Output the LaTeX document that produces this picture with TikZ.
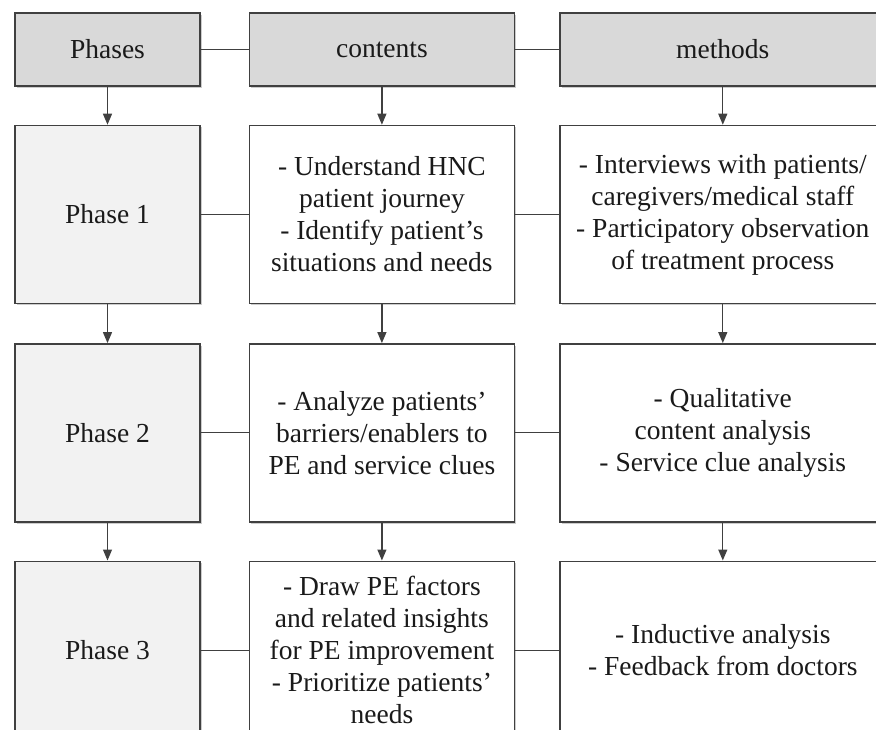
\documentclass[tikz,border=0pt]{standalone}
\usepackage{fontspec}
\setmainfont{Liberation Serif}
\usetikzlibrary{arrows.meta,positioning,shadows}
\definecolor{StageGray}{HTML}{D9D9D9}
\definecolor{StageSoft}{HTML}{F2F2F2}
\definecolor{StageLine}{HTML}{404040}
\definecolor{StageText}{HTML}{1A1A1A}

\begin{document}
\begin{tikzpicture}[
    x=1pt, y=-1pt,
    node distance=38pt and 46pt,
    basebox/.style={draw=StageLine, line width=1.4pt, align=center, inner sep=4pt, text=StageText, font=\fontsize{27.5}{32}\selectfont, drop shadow={shadow xshift=2pt, shadow yshift=-2pt, fill=black!40, opacity=0.5}},
    headbox/.style={basebox, fill=StageGray, minimum height=73pt},
    phasebox/.style={basebox, fill=StageSoft, minimum height=178pt},
    itembox/.style={basebox, fill=white, minimum height=178pt},
    phasecol/.style={minimum width=185pt},
    contentcol/.style={minimum width=265pt},
    methodcol/.style={minimum width=326pt},
    link/.style={line width=1.2pt, draw=StageLine},
    flow/.style={-{Triangle[length=11pt,width=9pt]}, line width=1.2pt, draw=StageLine}
  ]
    \useasboundingbox (0,0) rectangle (876,729);
    \clip (0,0) rectangle (876,729);

    \node[headbox,phasecol] (phases) at (107.5,49.5) {Phases};
    \node[headbox,contentcol,right=48pt of phases] (contents) {contents};
    \node[headbox,methodcol,right=44pt of contents] (methods) {methods};

    \node[phasebox,phasecol,below=of phases] (p1) {Phase 1};
    \node[itembox,contentcol,below=of contents] (c1) {- Understand HNC\\patient journey\\- Identify patient’s\\situations and needs};
    \node[itembox,methodcol,below=of methods] (m1) {- Interviews with patients/\\caregivers/medical staff\\- Participatory observation\\of treatment process};

    \node[phasebox,phasecol,below=39pt of p1] (p2) {Phase 2};
    \node[itembox,contentcol,below=39pt of c1] (c2) {- Analyze patients’\\barriers/enablers to\\PE and service clues};
    \node[itembox,methodcol,below=39pt of m1] (m2) {- Qualitative\\content analysis\\- Service clue analysis};

    \node[phasebox,phasecol,below=of p2] (p3) {Phase 3};
    \node[itembox,contentcol,below=of c2] (c3) {- Draw PE factors\\and related insights\\for PE improvement\\- Prioritize patients’\\needs};
    \node[itembox,methodcol,below=of m2] (m3) {- Inductive analysis\\- Feedback from doctors};

    \draw[link] (phases) -- (contents);
    \draw[link] (contents) -- (methods);
    \draw[link] (p1) -- (c1);
    \draw[link] (c1) -- (m1);
    \draw[link] (p2) -- (c2);
    \draw[link] (c2) -- (m2);
    \draw[link] (p3) -- (c3);
    \draw[link] (c3) -- (m3);

    \draw[flow] (phases) -- (p1);
    \draw[flow] (p1) -- (p2);
    \draw[flow] (p2) -- (p3);
    \draw[flow] (contents) -- (c1);
    \draw[flow] (c1) -- (c2);
    \draw[flow] (c2) -- (c3);
    \draw[flow] (methods) -- (m1);
    \draw[flow] (m1) -- (m2);
    \draw[flow] (m2) -- (m3);
  \end{tikzpicture}
\end{document}
